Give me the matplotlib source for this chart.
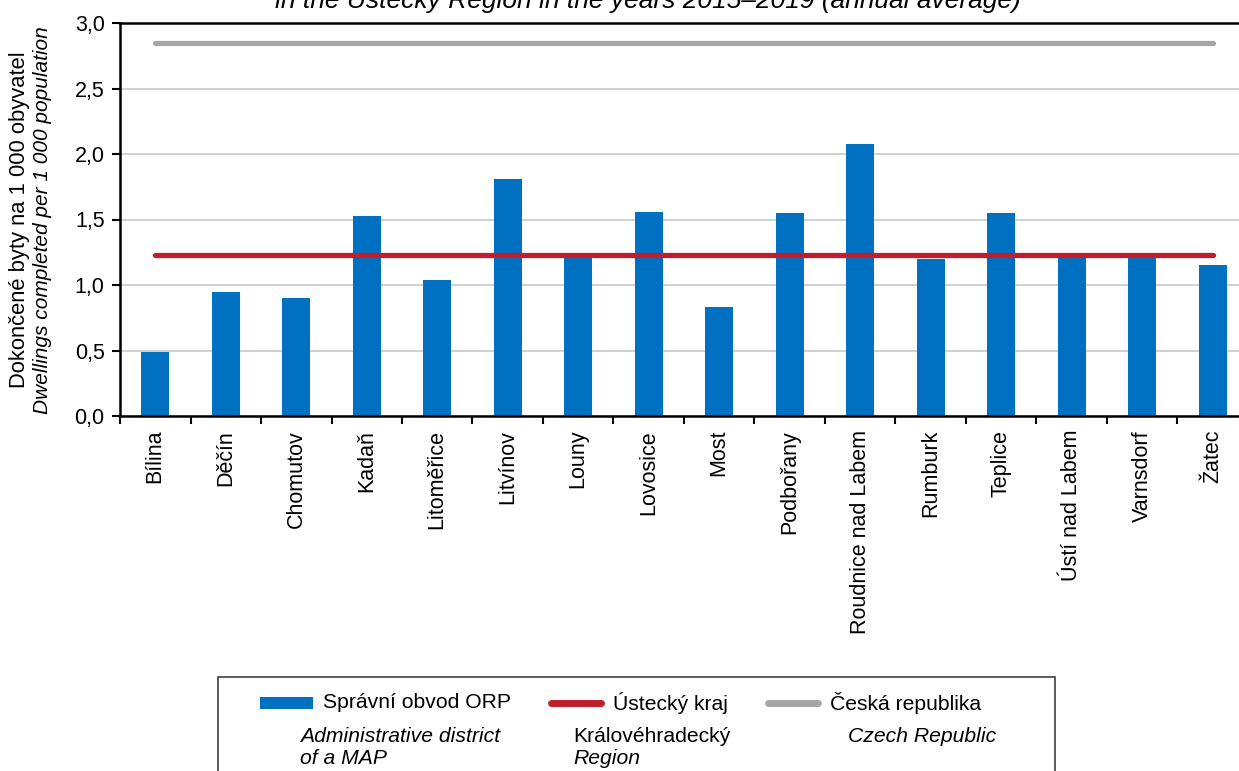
import numpy as np
import matplotlib.pyplot as plt
from matplotlib.patches import Rectangle
from matplotlib.lines import Line2D

plt.rcParams['font.family'] = ['Liberation Sans', 'DejaVu Sans']

# -----------------------------
# Data
# -----------------------------
districts = ["Bílina", "Děčín", "Chomutov", "Kadaň", "Litoměřice", "Litvínov",
             "Louny", "Lovosice", "Most", "Podbořany", "Roudnice nad Labem",
             "Rumburk", "Teplice", "Ústí nad Labem", "Varnsdorf", "Žatec"]
dwellings = [0.49, 0.95, 0.90, 1.53, 1.04, 1.81, 1.22, 1.56, 0.83, 1.55,
             2.08, 1.20, 1.55, 1.22, 1.22, 1.15]
region_value = 1.23
czech_value = 2.85

yticks = [0.0, 0.5, 1.0, 1.5, 2.0, 2.5, 3.0]

blue = "#0070C0"
red = "#BE1E2D"
grey = "#A6A6A6"

# -----------------------------
# Figure
# -----------------------------
fig = plt.figure(figsize=(12.39, 7.71), dpi=100)
W, H = 1239, 771
ax = fig.add_axes([120 / W, 1 - 416 / H, 1128 / W, 393 / H])

x = np.arange(len(districts))
ax.bar(x, dwellings, width=0.4, color=blue, zorder=2)
ax.hlines(region_value, x[0], x[-1], color=red, linewidth=3.8,
          capstyle="round", zorder=3)
ax.hlines(czech_value, x[0], x[-1], color=grey, linewidth=3.8,
          capstyle="round", zorder=3)

ax.set_xlim(-0.5, len(districts) - 0.5)
ax.set_ylim(0, 3.0)
ax.set_yticks(yticks)
ax.set_yticklabels([f"{v:.1f}".replace(".", ",") for v in yticks], fontsize=15.5)
ax.yaxis.grid(True, color="#C8C8C8", linewidth=1.2, zorder=0)
ax.set_axisbelow(True)

# category boundaries as major ticks, labels on minor ticks
ax.set_xticks(np.arange(len(districts) + 1) - 0.5)
ax.set_xticklabels([])
ax.set_xticks(x, minor=True)
ax.set_xticklabels(districts, minor=True, rotation=90, fontsize=15.5)
ax.tick_params(axis="x", which="minor", length=0, pad=10)
ax.tick_params(axis="x", which="major", length=6, width=1.5, direction="out")
ax.tick_params(axis="y", length=6, width=1.5, direction="out", pad=5)

for side in ["left", "bottom", "top"]:
    ax.spines[side].set_linewidth(1.8)
ax.spines["right"].set_visible(False)

# y-axis label in two languages
fig.text(20 / W, 1 - 220 / H, "Dokončené byty na 1 000 obyvatel",
         rotation=90, ha="center", va="center", fontsize=15.8)
fig.text(43 / W, 1 - 220 / H, "Dwellings completed per 1 000 population",
         rotation=90, ha="center", va="center", fontsize=15, style="italic")

# title (cropped at the top in the source)
fig.text(648 / W, 1 - 8 / H,
         "in the Ústecký Region in the years 2015–2019 (annual average)",
         ha="center", va="baseline", fontsize=19, style="italic")

# -----------------------------
# Legend box
# -----------------------------
fig.add_artist(Rectangle((218 / W, -0.05), (1055 - 218) / W, 0.05 + (771 - 677) / H,
                         transform=fig.transFigure, facecolor="white",
                         edgecolor="#404040", linewidth=1.2))

row1 = 1 - 703 / H
fig.add_artist(Rectangle((260 / W, 1 - 709 / H), 53 / W, 12 / H,
                         transform=fig.transFigure, facecolor=blue,
                         edgecolor="none"))
fig.text(323 / W, row1, "Správní obvod ORP", va="center", fontsize=15.2)

fig.add_artist(Line2D([551 / W, 601 / W], [row1, row1], transform=fig.transFigure,
                      color=red, linewidth=5, solid_capstyle="round"))
fig.text(613 / W, row1, "Ústecký kraj", va="center", fontsize=15.2)

fig.add_artist(Line2D([768 / W, 818 / W], [row1, row1], transform=fig.transFigure,
                      color=grey, linewidth=5, solid_capstyle="round"))
fig.text(830 / W, row1, "Česká republika", va="center", fontsize=15.2)

row2 = 1 - 737 / H
row3 = 1 - 759 / H
fig.text(300 / W, row2, "Administrative district", va="center", fontsize=15.2,
         style="italic")
fig.text(300 / W, row3, "of a MAP", va="center", fontsize=15.2, style="italic")
fig.text(573 / W, row2, "Královéhradecký", va="center", fontsize=15.2)
fig.text(573 / W, row3, "Region", va="center", fontsize=15.2, style="italic")
fig.text(848 / W, row2, "Czech Republic", va="center", fontsize=15.2,
         style="italic")

fig.savefig("out.png", dpi=100)
